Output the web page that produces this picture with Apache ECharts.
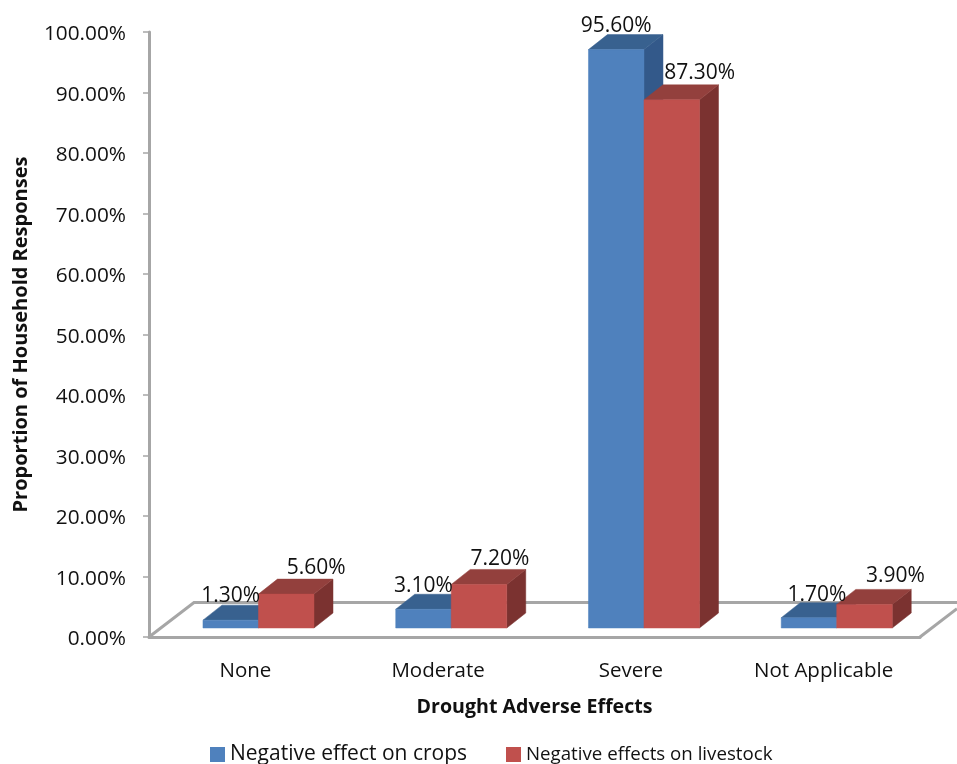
<!DOCTYPE html>
<html><head><meta charset="utf-8">
<style>html,body{margin:0;padding:0;background:#fff}#c{width:957px;height:764px}</style>
<script src="https://cdn.jsdelivr.net/npm/echarts@6/dist/echarts.min.js"></script>
</head><body><div id="c"></div>
<script>
const categories = ['None','Moderate','Severe','Not Applicable'];
const cropValues = [1.3,3.1,95.6,1.7];
const livestockValues = [5.6,7.2,87.3,3.9];
const yTicks = {min:0,max:100,interval:10};
const FONT = '"Open Sans", sans-serif';
const DX=19, DY=-15, BASE=9, FLOOR_DX=45, FLOOR_DY=-34.5;
function shade(front,top,side){return {front,top,side};}
const BLUE=shade('#4f81bd','#38618f','#33598a');
const RED=shade('#c0504d','#93403d','#7b3230');
function bar3d(colors, side){
  return function(params,api){
    const i=api.value(0), v=api.value(1);
    const p=api.coord([i,v]), z=api.coord([i,0]);
    const band=api.size([1,0])[0];
    const w=band*0.288, split=p[0]+band*0.068;
    const x0=side<0?split-w:split, x1=x0+w;
    const yB=z[1]-BASE;
    const top=p[1]-BASE;
    const poly=(pts,fill)=>({type:'polygon',shape:{points:pts},style:{fill,stroke:fill,lineWidth:0.5}});
    return {type:'group',children:[
      poly([[x1,top],[x1+DX,top+DY],[x1+DX,yB+DY],[x1,yB]],colors.side),
      poly([[x0,top],[x0+DX,top+DY],[x1+DX,top+DY],[x1,top]],colors.top),
      {type:'rect',shape:{x:x0,y:top,width:w,height:yB-top},style:{fill:colors.front,stroke:colors.front,lineWidth:0.5}}
    ]};
  };
}
const labelOffsets=[[[0,-24],[30,-26]],[[0,-23],[21,-25]],[[0,-24],[28,-27]],[[8,-23],[31,-28]]];
function labelItem(params,api){
  const i=api.value(0), v=api.value(1), s=api.value(2);
  const p=api.coord([i,v]);
  const band=api.size([1,0])[0];
  const w=band*0.288, split=p[0]+band*0.068;
  const cx=split+(s===0?-w/2:w/2), off=labelOffsets[i][s];
  return {type:'text',style:{x:cx+off[0],y:p[1]-BASE+off[1],text:v.toFixed(2)+'%',align:'center',verticalAlign:'middle',font:'21px '+FONT,fill:'#111'}};
}
function floorItem(params,api){
  if(params.dataIndex!==0) return;
  const cs=params.coordSys, y=cs.y+cs.height, xL=cs.x, xR=cs.x+cs.width;
  const W=api.getWidth();
  const clipDx=Math.min(FLOOR_DX,W-xR);
  const ls={stroke:'#a6a6a6',lineWidth:3,fill:'none'};
  return {type:'group',children:[
    {type:'polyline',shape:{points:[[xL,y],[xL+FLOOR_DX,y+FLOOR_DY],[W,y+FLOOR_DY]]},style:ls},
    {type:'line',shape:{x1:xR,y1:y,x2:xR+clipDx,y2:y+FLOOR_DY*clipDx/FLOOR_DX},style:ls}
  ]};
}
const chart=echarts.init(document.getElementById('c'),null,{renderer:'canvas'});
chart.setOption({
  animation:false,backgroundColor:'#fff',
  grid:{left:149,right:37,top:32,bottom:127,containLabel:false,outerBoundsMode:'none'},
  legend:{show:true,data:[{name:'Negative effect on crops'},{name:'Negative effects on livestock',textStyle:{fontSize:18.7}}],top:744,left:210,icon:'rect',itemWidth:15,itemHeight:15,itemGap:39,padding:0,
    textStyle:{fontFamily:'Open Sans',fontSize:21,color:'#111'}},
  xAxis:{type:'category',data:categories,name:'Drought Adverse Effects',nameLocation:'middle',nameGap:60,
    nameTextStyle:{fontFamily:'Open Sans',fontWeight:'bold',fontSize:19.6,color:'#111'},
    axisLine:{lineStyle:{color:'#a6a6a6',width:3}},axisTick:{show:false},
    axisLabel:{fontFamily:'Open Sans',fontSize:20.5,color:'#111',margin:24}},
  yAxis:{type:'value',...yTicks,name:'Proportion of Household Responses',nameLocation:'middle',nameGap:118,
    nameTextStyle:{fontFamily:'Open Sans',fontWeight:'bold',fontSize:20,color:'#111'},
    axisLine:{show:true,lineStyle:{color:'#a6a6a6',width:3}},axisTick:{show:true,length:6,lineStyle:{color:'#a6a6a6',width:1.5}},
    splitLine:{show:false},
    axisLabel:{fontFamily:'Open Sans',fontSize:20.8,color:'#111',margin:23,verticalAlign:'top',padding:[-8,0,0,0],formatter:v=>v.toFixed(2)+'%'}},
  series:[
    {type:'custom',name:'floor',silent:true,z:1,clip:false,renderItem:floorItem,data:categories.map((c,i)=>[i,0]),encode:{x:0,y:1}},
    {type:'custom',name:'Negative effect on crops',z:2,clip:false,itemStyle:{color:BLUE.front,borderColor:'#3a6a9f'},renderItem:bar3d(BLUE,-1),data:cropValues.map((v,i)=>[i,v]),encode:{x:0,y:1}},
    {type:'custom',name:'Negative effects on livestock',z:3,clip:false,itemStyle:{color:RED.front,borderColor:'#9c3d3a'},renderItem:bar3d(RED,1),data:livestockValues.map((v,i)=>[i,v]),encode:{x:0,y:1}},
    {type:'custom',name:'labels',z:5,clip:false,silent:true,renderItem:labelItem,
      data:[...cropValues.map((v,i)=>[i,v,0]),...livestockValues.map((v,i)=>[i,v,1])],encode:{x:0,y:1}}
  ]
});
</script></body></html>
